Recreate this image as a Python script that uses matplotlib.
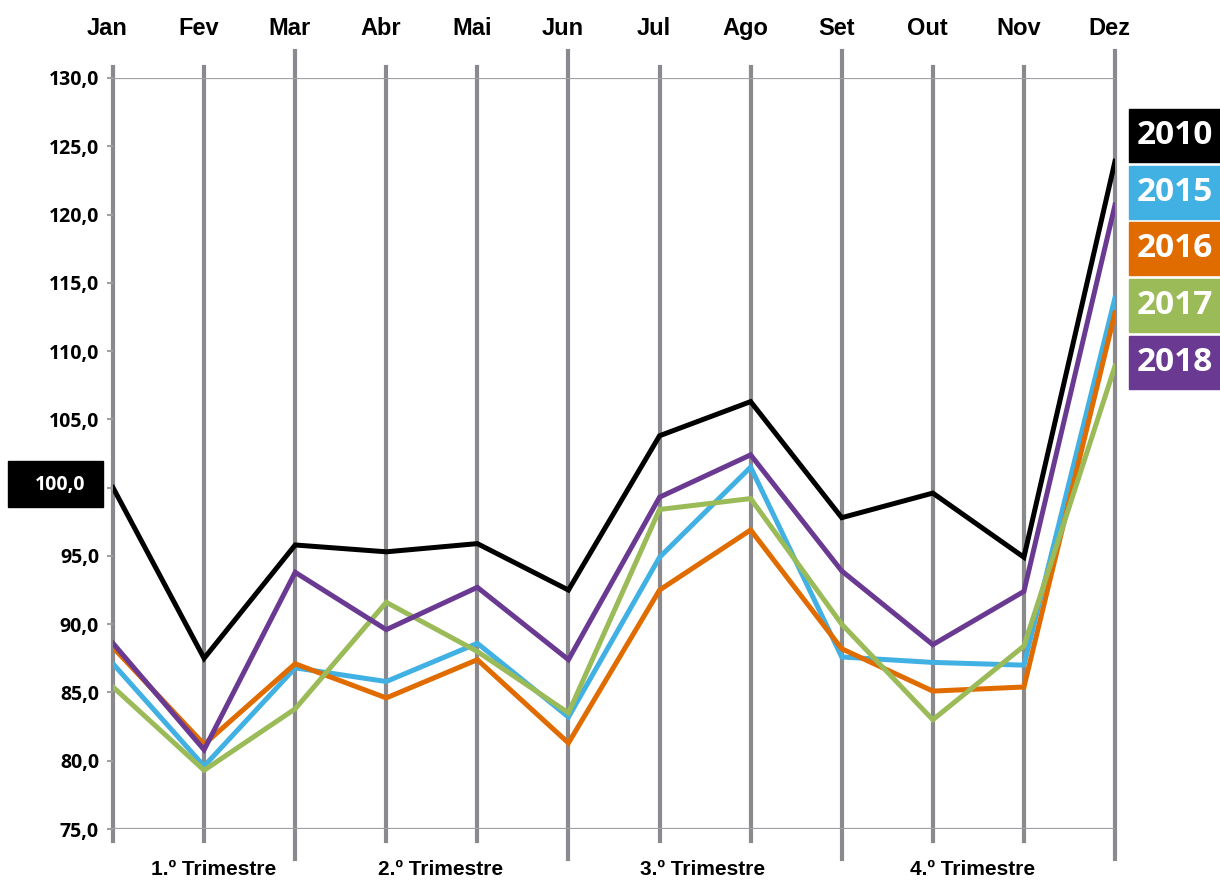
import numpy as np
import matplotlib
matplotlib.use("Agg")
import matplotlib.pyplot as plt
from matplotlib.patches import Rectangle

# dados
meses = ["Jan", "Fev", "Mar", "Abr", "Mai", "Jun", "Jul", "Ago", "Set", "Out", "Nov", "Dez"]
trimestres = ["1.º Trimestre", "2.º Trimestre", "3.º Trimestre", "4.º Trimestre"]
anos = ["2010", "2015", "2016", "2017", "2018"]

v2010 = [100.0, 87.5, 95.8, 95.3, 95.9, 92.5, 103.8, 106.3, 97.8, 99.6, 94.9, 123.9]
v2015 = [87.1, 79.6, 86.8, 85.8, 88.6, 83.2, 94.9, 101.5, 87.6, 87.2, 87.0, 113.9]
v2016 = [88.3, 81.2, 87.1, 84.6, 87.4, 81.3, 92.5, 96.9, 88.2, 85.1, 85.4, 112.8]
v2017 = [85.4, 79.3, 83.8, 91.6, 88.0, 83.5, 98.4, 99.2, 90.0, 83.0, 88.4, 108.9]
v2018 = [88.6, 80.8, 93.8, 89.6, 92.7, 87.4, 99.3, 102.4, 93.9, 88.5, 92.4, 120.7]

cores = ["#000000", "#41B0E3", "#E06C00", "#9BBB59", "#6A3A92"]
series = [v2010, v2015, v2016, v2017, v2018]

cinza = "#8A8A8E"
fonte_num = ["Open Sans", "DejaVu Sans"]
fonte_rot = ["Liberation Sans Narrow", "Liberation Sans", "DejaVu Sans"]

fig = plt.figure(figsize=(12.2, 8.82), dpi=100)
W, H = 1220, 882
ax = fig.add_axes([113 / W, 53 / H, 1002 / W, 751 / H])
ax.set_xlim(0, 11)
ax.set_ylim(75, 130)
for s in ax.spines.values():
    s.set_visible(False)

x = np.arange(len(meses))

# linhas verticais dos meses (as de fim de trimestre sao mais compridas)
for i in x:
    if i % 3 == 2:
        ax.plot([i, i], [72.8, 132.0], color=cinza, lw=3.0, clip_on=False, zorder=1)
    else:
        ax.plot([i, i], [74.1, 130.8], color=cinza, lw=3.0, clip_on=False, zorder=1)

# linhas horizontais 130 e 75
for yv in [75, 130]:
    ax.plot([0, 11], [yv, yv], color="#A0A0A4", lw=1.6, zorder=1)

# series
for vals, c in zip(series, cores):
    ax.plot(x, vals, color=c, lw=3.6, solid_joinstyle="miter", zorder=3)

# eixo y
ticks = np.arange(75, 131, 5)
ax.set_yticks(ticks)
ax.set_yticklabels([("%.1f" % t).replace(".", ",") if t != 100 else "" for t in ticks],
                   fontfamily=fonte_num, fontweight="bold", fontsize=14)
ax.tick_params(axis="y", length=4, width=1.5, color="#A0A0A4", pad=6)
ax.set_xticks([])

# rotulo 100,0 destacado
fig.patches.append(Rectangle((8 / W, (H - 507) / H), 95 / W, 46 / H,
                             transform=fig.transFigure, color="black", zorder=0))
fig.text(60 / W, (H - 485) / H, "100,0", color="white", ha="center", va="center",
         fontfamily=fonte_num, fontweight="bold", fontsize=14)

# meses no topo
for i, m in enumerate(meses):
    ax.text(i - 0.06, 133.6, m, ha="center", va="center", fontsize=17,
            fontweight="bold", fontfamily=fonte_rot, clip_on=False)

# trimestres em baixo
pos_trim = [1.11, 3.6, 6.47, 9.44]
for p, t in zip(pos_trim, trimestres):
    ax.text(p, 72.06, t, ha="center", va="center", fontsize=15,
            fontweight="bold", fontfamily=fonte_rot, clip_on=False)

# legenda em caixas
topo = 109
for k, (ano, c) in enumerate(zip(anos, cores)):
    y0 = topo + k * 56.7
    fig.patches.append(Rectangle((1129 / W, (H - y0 - 53) / H), 95 / W, 53 / H,
                                 transform=fig.transFigure, color=c, zorder=0))
    fig.text(1175 / W, (H - y0 - 26.5) / H, ano, color="white", ha="center", va="center",
             fontfamily=fonte_num, fontweight="bold", fontsize=24)

fig.savefig("out.png", dpi=100)
